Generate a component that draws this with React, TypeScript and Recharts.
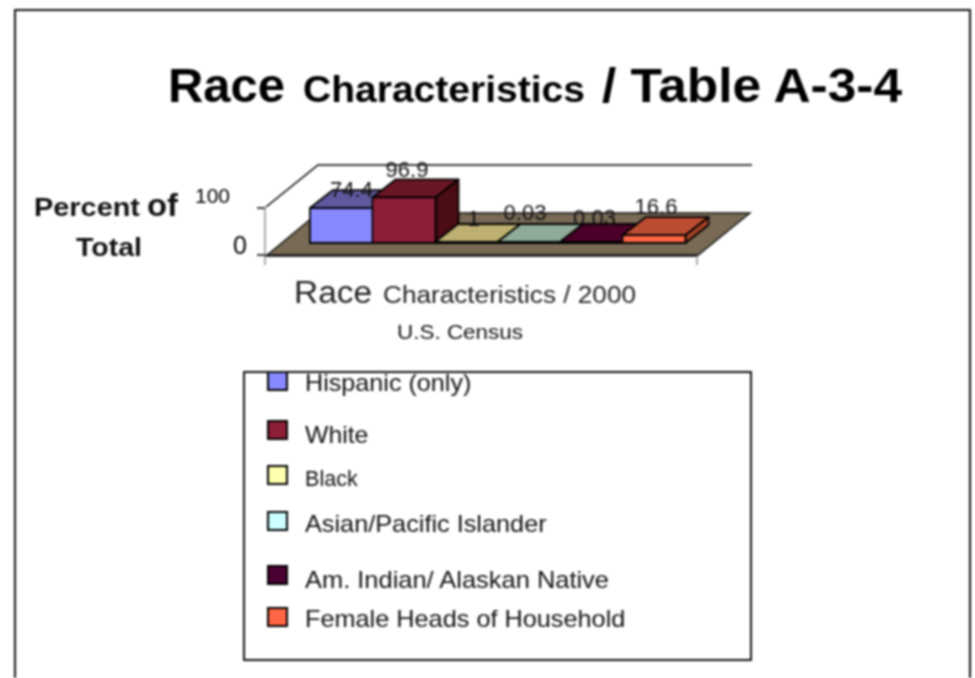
import React from "react";
import { BarChart, Bar, XAxis, YAxis, Legend, LabelList } from "recharts";

const categories = ["Hispanic (only)", "White", "Black", "Asian/Pacific Islander", "Am. Indian/ Alaskan Native", "Female Heads of Household"];
const values = [74.4, 96.9, 1, 0.03, 0.03, 16.6];
const valueLabels = ["74.4", "96.9", "1", "0.03", "0.03", "16.6"];
const yTicks = [0, 100];

const frontColors = ["#8888ff", "#8e1f38", "#ffffb0", "#ccffff", "#4a0030", "#ff6644"];
const topColors = ["#5f5a9f", "#6b1624", "#bdb070", "#8faa96", "#4a0028", "#bc4d33"];
const sideColors = ["#4a4680", "#4a0d14", "#8a8050", "#6a8070", "#300018", "#a84425"];
const labelNudgeX = [10, 3, 7, -4, 3, 2];
const labelNudgeY = [-11, -20, -17, -23, -18, -21];
const legendRowTops = [0, 49, 94, 140, 194, 236];
const legendTextTops = [-1, 51, 95, 140, 196, 235];
const legendFontSizes = [23.2, 23.2, 21.6, 23.2, 23.2, 23.2];
const legendStretch = [1.085, 1.07, 1.0, 1.09, 1.097, 1.09];

const data = categories.map((name, i) => ({ name, value: values[i], label: valueLabels[i] }));

const SHIFT_X = 15;
const SHIFT_Y = -12;
const DEPTH_X = 23;
const DEPTH_Y = -18;

function Bar3D(props: any) {
  const { x, y, width, height, index } = props;
  const h = Math.max(height, 1);
  const l = x + SHIFT_X;
  const r = l + width;
  const b = y + height + SHIFT_Y;
  const t = b - h;
  return (
    <g stroke="#000" strokeWidth={1.8} strokeLinejoin="round">
      <polygon points={`${l},${t} ${r},${t} ${r + DEPTH_X},${t + DEPTH_Y} ${l + DEPTH_X},${t + DEPTH_Y}`} fill={topColors[index]} />
      <polygon points={`${r},${t} ${r + DEPTH_X},${t + DEPTH_Y} ${r + DEPTH_X},${b + DEPTH_Y} ${r},${b}`} fill={sideColors[index]} />
      <rect x={l} y={t} width={width} height={h} fill={frontColors[index]} />
    </g>
  );
}

function ValueLabel(props: any) {
  const { x, y, width, index } = props;
  return (
    <text
      x={x + SHIFT_X + width / 2 + labelNudgeX[index]}
      y={y + SHIFT_Y + labelNudgeY[index]}
      textAnchor="middle"
      fontFamily="Liberation Sans"
      fontSize={22}
      fill="#111"
    >
      {valueLabels[index]}
    </text>
  );
}

function YTick(props: any) {
  const { y, payload } = props;
  const big = payload.value === 0;
  return (
    <text
      x={big ? 247 : 230}
      y={big ? y - 1 : y - 5}
      textAnchor="end"
      fontFamily="Liberation Sans"
      fontSize={big ? 25 : 21}
      fill="#000"
    >
      {payload.value}
    </text>
  );
}

function LegendBox() {
  return (
    <div style={{ position: "relative", width: 505, height: 286, border: "2px solid #111", background: "#fff", overflow: "hidden", fontFamily: "Liberation Sans" }}>
      {categories.map((c, i) => (
        <React.Fragment key={c}>
          <div
            style={{ position: "absolute", left: 22, top: legendRowTops[i] - 2, width: 21, height: 20, boxSizing: "border-box", border: "2px solid #000", background: frontColors[i] }}
          />
          <div
            style={{ position: "absolute", left: 60, top: legendTextTops[i] - 1, fontSize: legendFontSizes[i], lineHeight: "24px", color: "#111", whiteSpace: "nowrap", transform: `scaleX(${legendStretch[i]})`, transformOrigin: "left center" }}
          >
            {c}
          </div>
        </React.Fragment>
      ))}
    </div>
  );
}

function Backdrop() {
  const font = "Liberation Sans";
  return (
    <svg width={975} height={678} style={{ position: "absolute", left: 0, top: 0 }}>
      <path d="M15,678 L15,10 L970,10 L970,678" fill="none" stroke="#111" strokeWidth={2} />
      <text x={168} y={102} fontFamily={font} fontWeight={700} fontSize={48} fill="#000" textLength={117} lengthAdjust="spacingAndGlyphs">Race</text>
      <text x={303} y={102} fontFamily={font} fontWeight={700} fontSize={37} fill="#000" textLength={282} lengthAdjust="spacingAndGlyphs">Characteristics</text>
      <text x={602} y={102} fontFamily={font} fontWeight={700} fontSize={48} fill="#000" textLength={300} lengthAdjust="spacingAndGlyphs">/ Table A-3-4</text>

      <text x={34} y={216} fontFamily={font} fontWeight={700} fontSize={25} fill="#111" textLength={106} lengthAdjust="spacingAndGlyphs">Percent</text>
      <text x={147} y={216} fontFamily={font} fontWeight={700} fontSize={31} fill="#111" textLength={31} lengthAdjust="spacingAndGlyphs">of</text>
      <text x={76} y={256} fontFamily={font} fontWeight={700} fontSize={25} fill="#111" textLength={66} lengthAdjust="spacingAndGlyphs">Total</text>

      <text x={294} y={303} fontFamily={font} fontSize={31} fill="#222" textLength={78} lengthAdjust="spacingAndGlyphs">Race</text>
      <text x={383} y={303} fontFamily={font} fontSize={23} fill="#222" textLength={253} lengthAdjust="spacingAndGlyphs">Characteristics / 2000</text>
      <text x={397} y={339} fontFamily={font} fontSize={20} fill="#111" textLength={126} lengthAdjust="spacingAndGlyphs">U.S. Census</text>

      <polyline points="266,207 318,165 752,165" fill="none" stroke="#000" strokeWidth={1.6} />
      <polygon points="266,256 697,256 750,213 318,213" fill="#786a55" stroke="#111" strokeWidth={1.4} />
      <line x1={697} y1={256} x2={697} y2={265} stroke="#aaa" strokeWidth={2} />
      <line x1={265} y1={256} x2={265} y2={265} stroke="#aaa" strokeWidth={2} />
    </svg>
  );
}

export default function App() {
  return (
    <div style={{ position: "absolute", left: 0, top: 0, width: 975, height: 678, background: "#fff", overflow: "hidden", filter: "blur(0.8px)" }}>
      <Backdrop />
      <div style={{ position: "absolute", left: 0, top: 0 }}>
        <BarChart
          width={975}
          height={678}
          data={data}
          margin={{ left: 165, right: 278, top: 208, bottom: 422 }}
          barCategoryGap={0}
          barGap={0}
        >
          <XAxis dataKey="name" height={1} tick={false} tickLine={false} padding={{ left: 30, right: 27 }} axisLine={{ stroke: "#111", strokeWidth: 1.6 }} />
          <YAxis
            width={100}
            domain={[0, 100]}
            ticks={yTicks}
            tick={<YTick />}
            tickSize={8}
            tickLine={{ stroke: "#111", strokeWidth: 1.6 }}
            axisLine={{ stroke: "#aaa", strokeWidth: 2 }}
          />
          <Bar dataKey="value" isAnimationActive={false} shape={<Bar3D />}>
            <LabelList dataKey="label" content={<ValueLabel />} />
          </Bar>
          <Legend
            layout="vertical"
            align="center"
            verticalAlign="middle"
            content={<LegendBox />}
            wrapperStyle={{ position: "absolute", left: 243, top: 371, width: 509, height: 290 }}
          />
        </BarChart>
      </div>
    </div>
  );
}
